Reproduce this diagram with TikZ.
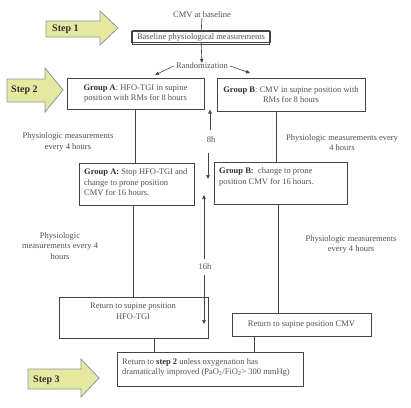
\documentclass[tikz,border=0pt]{standalone}
\usepackage{fontspec}
\setmainfont{Liberation Serif}
\usetikzlibrary{arrows.meta}
\definecolor{txt}{HTML}{505050}
\definecolor{dark}{HTML}{303030}
\definecolor{boxline}{HTML}{444444}
\definecolor{stepfill}{HTML}{E6E8A0}
\definecolor{stepline}{HTML}{8797A5}
\begin{document}
\begin{tikzpicture}[x=1pt,y=-1pt,
  every node/.style={font=\fontsize{8.5}{10.5}\selectfont, text=txt, inner sep=0pt},
  box/.style={draw=boxline, line width=0.9pt},
  lbl/.style={align=center},
  conn/.style={draw=boxline, line width=0.6pt},
  arr/.style={conn, -{Triangle[width=3.5pt,length=4pt]}},
  steparrow/.style={fill=stepfill, draw=stepline, line width=0.8pt},
  steplbl/.style={font=\fontsize{10}{11}\selectfont\bfseries, text=dark}
]
\useasboundingbox (0,0) rectangle (411,407);

% Step arrows
\draw[steparrow] (46,21) -- (100,21) -- (100,11) -- (118,28) -- (100,45) -- (100,37) -- (46,37) -- cycle;
\node[steplbl, anchor=west] (s1) at (52,29) {Step 1};
\draw[steparrow] (7,79) -- (45,79) -- (45,68) -- (63,90) -- (45,112) -- (45,102) -- (7,102) -- cycle;
\node[steplbl, anchor=west] (s2) at (11,90) {Step 2};
\draw[steparrow] (28,369) -- (81,369) -- (81,359) -- (99,378) -- (81,397) -- (81,389) -- (28,389) -- cycle;
\node[steplbl, anchor=west] (s3) at (33,380) {Step 3};

% top
\node (cmv) at (202,15) {CMV at baseline};
\node[minimum width=139pt, minimum height=11pt] (base) at (201,37) {Baseline physiological measurements};
\draw[boxline, line width=0.6pt] (base.north west) rectangle (base.south east);
\draw[boxline, line width=0.5pt] ([shift={(1.2,-1.2)}]base.north west) rectangle ([shift={(-1.2,1.2)}]base.south east);
\node (rand) at (202,66) {Randomization};

% group boxes
\node[box, minimum width=137pt, minimum height=31pt, lbl] (ga) at (135.5,93.5) {\textcolor{dark}{\bfseries Group A}: HFO-TGI in supine\\position with RMs for 8 hours};
\node[box, minimum width=148pt, minimum height=33pt, lbl] (gb) at (291,94.5) {\textcolor{dark}{\bfseries Group B}: CMV in supine position with\\RMs for 8 hours};

\node[box, minimum width=115pt, minimum height=42pt] (ga2) at (136.5,184) {};
\node[anchor=north west, align=left] (ga2t) at (84,168.5) {\textcolor{dark}{\bfseries Group A:} Stop HFO-TGI and\\change to prone position\\CMV for 16 hours.};
\node[box, minimum width=133pt, minimum height=42pt] (gb2) at (280.5,183) {};
\node[anchor=north west, align=left] (gb2t) at (219,167.5) {\textcolor{dark}{\bfseries Group B:}\ \ change to prone\\position CMV for 16 hours.};

\node[box, minimum width=149pt, minimum height=41pt] (ra) at (133.5,317.5) {};
\node[lbl, anchor=north] (rat) at (133,303) {Return to supine position\\HFO-TGI};
\node[box, minimum width=139pt, minimum height=23pt] (rb) at (301.5,324.5) {Return to supine position CMV};

\node[box, minimum width=186pt, minimum height=34pt] (fin) at (210,369) {};
\node[anchor=north west, align=left] (fint) at (122,358) {Return to \textcolor{dark}{\bfseries step 2} unless oxygenation has\\dramatically improved (PaO\textsubscript{2}/FiO\textsubscript{2}> 300 mmHg)};

% side labels
\node[lbl] (pa1) at (68,142) {Physiologic measurements\\every 4 hours};
\node[lbl] (pb1) at (342,142.5) {Physiologic measurements every\\4 hours};
\node[lbl] (pa2) at (60,246) {Physiologic\\measurements every 4\\hours};
\node[lbl] (pb2) at (351,244.5) {Physiologic measurements\\every 4 hours};

\node (h8) at (211,140) {8h};
\node (h16) at (205,267) {16h};

% coordinates for timeline
\coordinate (t1a) at (210,130);
\coordinate (t1b) at (210,109.5);
\coordinate (t2a) at (208,153);
\coordinate (t2b) at (208,179);
\coordinate (t3a) at (204,259);
\coordinate (t3b) at (204,195);
\coordinate (t4a) at (204,275);
\coordinate (t4b) at (204,324);

% connectors
\draw[conn] (cmv) -- (base);
\draw[arr] (base) -- (rand);
\draw[arr] (rand.west) ++(-2,0) coordinate (rw) -- (155,75);
\draw[arr] (rand.east) ++(2,0) coordinate (re) -- (250,73);
\draw[conn] (ga.south -| 135,0) -- (ga2.north -| 135,0);
\draw[conn] (gb.south -| 276,0) -- (gb2.north -| 276,0);
\draw[conn] (ga2.south -| 133,0) -- (ra.north -| 133,0);
\draw[conn] (gb2.south -| 278,0) -- (rb.north -| 278,0);
\draw[conn] (ra.south -| 154,0) -- (fin.north -| 154,0);
\draw[conn] (rb.south -| 254,0) -- (fin.north -| 254,0);

\draw[arr] (t1a) -- (t1b);
\draw[arr] (t2a) -- (t2b);
\draw[arr] (t3a) -- (t3b);
\draw[arr] (t4a) -- (t4b);
\end{tikzpicture}
\end{document}
